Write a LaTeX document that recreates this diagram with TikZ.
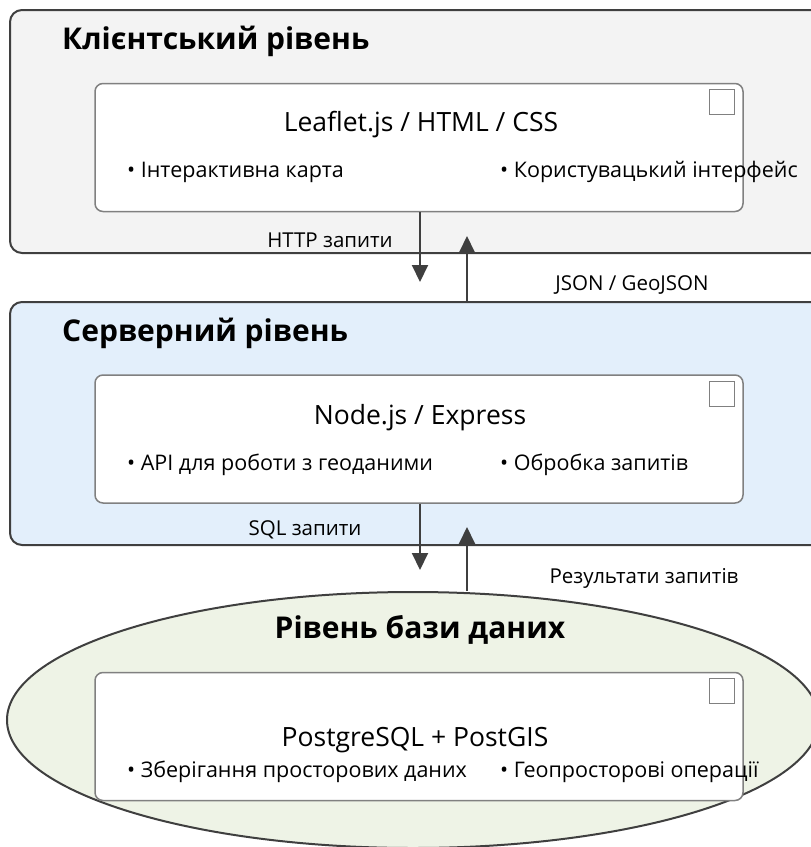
\documentclass[tikz,border=0pt]{standalone}
\usepackage{fontspec}
\setmainfont{Open Sans}
\usetikzlibrary{arrows.meta,shapes.geometric}

\definecolor{clientfill}{HTML}{F3F3F3}
\definecolor{serverfill}{HTML}{E3EFFB}
\definecolor{dbfill}{HTML}{EEF3E6}
\definecolor{edgegray}{HTML}{3F3F3F}
\definecolor{innergray}{HTML}{808080}

\tikzset{
  layerbox/.style={draw=edgegray, line width=2pt, rounded corners=12pt,
    minimum width=820pt, minimum height=243pt, inner sep=0pt},
  compbox/.style={draw=innergray, fill=white, line width=1.5pt, rounded corners=8pt,
    minimum width=648pt, minimum height=128pt, inner sep=0pt},
  tickbox/.style={draw=innergray, line width=1.2pt},
  layertitle/.style={inner sep=0pt, font=\fontsize{30}{34}\selectfont\bfseries},
  comptitle/.style={inner sep=0pt, font=\fontsize{26.5}{30}\selectfont},
  bullet/.style={anchor=west, inner sep=0pt, font=\fontsize{21.5}{25}\selectfont},
  flowlabel/.style={inner sep=0pt, font=\fontsize{20.5}{24}\selectfont},
  flow/.style={draw=edgegray, line width=2pt, -{Triangle[length=17pt,width=16pt]}}
}

\begin{document}
\begin{tikzpicture}[x=1pt, y=-1pt]
  \useasboundingbox (0,0) rectangle (811,847);
  \clip (0,0) rectangle (811,847);

	% Client layer
  \node[layerbox, fill=clientfill] (client) at (420,131.5) {};
  \node[layertitle, anchor=west] (clienttitle) at (62,41) {Клієнтський рівень};
  \node[compbox] (cin) at (419,147.5) {};
  \draw[tickbox] ([shift={(-34,7)}]cin.north east) rectangle ++(25,25);
  \node[comptitle] (cintitle) at (421,125) {Leaflet.js / HTML / CSS};
  \node[bullet] (cmap) at (127,172) {• Інтерактивна карта};
  \node[bullet] (cui) at (500,172) {• Користувацький інтерфейс};

	% Server layer
  \node[layerbox, fill=serverfill] (server) at (420,423.5) {};
  \node[layertitle, anchor=west] (servertitle) at (62,333) {Серверний рівень};
  \node[compbox] (sin) at (419,439) {};
  \draw[tickbox] ([shift={(-34,7)}]sin.north east) rectangle ++(25,25);
  \node[comptitle] (sintitle) at (420,418) {Node.js / Express};
  \node[bullet] (sapi) at (127,465) {• API для роботи з геоданими};
  \node[bullet] (sreq) at (500,465) {• Обробка запитів};

	% Database layer
  \node[ellipse, draw=edgegray, line width=2pt, fill=dbfill,
    minimum width=812pt, minimum height=256pt, inner sep=0pt] (db) at (413,720) {};
  \node[layertitle] (dbtitle) at (420,630) {Рівень бази даних};
  \node[compbox] (din) at (419,736.5) {};
  \draw[tickbox] ([shift={(-34,7)}]din.north east) rectangle ++(25,25);
  \node[comptitle] (dintitle) at (415,740) {PostgreSQL + PostGIS};
  \node[bullet] (dstore) at (127,772) {• Зберігання просторових даних};
  \node[bullet] (dops) at (500,772) {• Геопросторові операції};

	% Data flows
  \coordinate (httptip) at (420,282);
  \coordinate (jsontip) at (467,236);
  \coordinate (sqltip) at (420,570);
  \coordinate (restip) at (467,527);
  \draw[flow] (cin.south -| httptip) -- (httptip);
  \draw[flow] (server.north -| jsontip) -- (jsontip);
  \draw[flow] (sin.south -| sqltip) -- (sqltip);
  \draw[flow] (db.north -| restip) -- (restip);
  \node[flowlabel] (httplabel) at (330,240) {HTTP запити};
  \node[flowlabel] (jsonlabel) at (632,285) {JSON / GeoJSON};
  \node[flowlabel] (sqllabel) at (305,530) {SQL запити};
  \node[flowlabel] (reslabel) at (644,578) {Результати запитів};
\end{tikzpicture}
\end{document}
